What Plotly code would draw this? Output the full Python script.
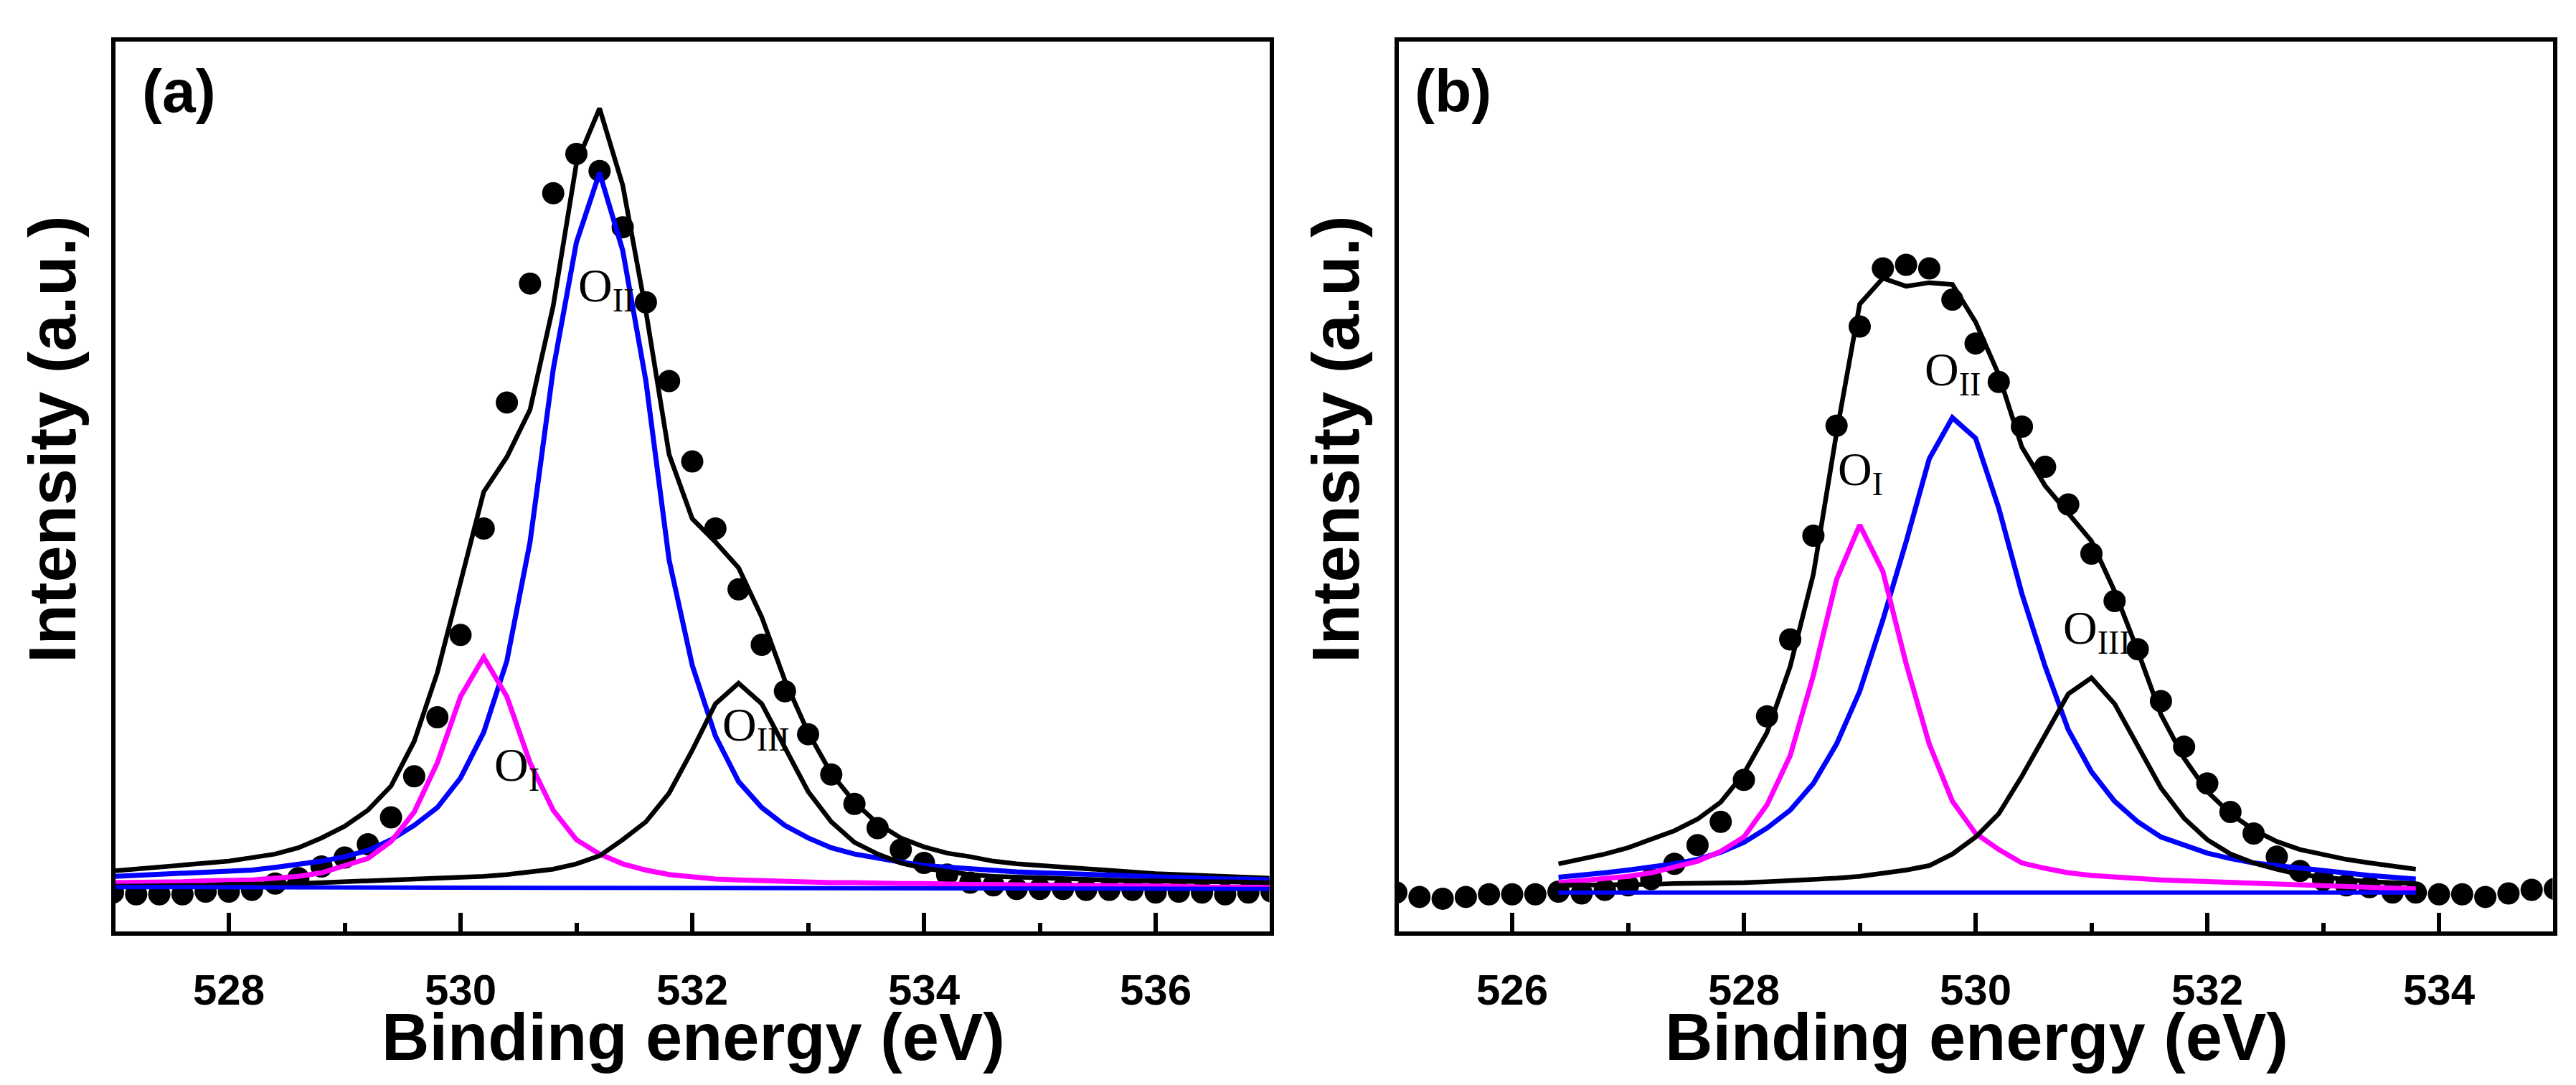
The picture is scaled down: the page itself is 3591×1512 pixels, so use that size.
import plotly.graph_objects as go

# ---- panel (a): O 1s spectrum, measured points and fitted components ----
energy_a = [527.0, 527.2, 527.4, 527.6, 527.8, 528.0, 528.2, 528.4, 528.6, 528.8,
            529.0, 529.2, 529.4, 529.6, 529.8, 530.0, 530.2, 530.4, 530.6, 530.8,
            531.0, 531.2, 531.4, 531.6, 531.8, 532.0, 532.2, 532.4, 532.6, 532.8,
            533.0, 533.2, 533.4, 533.6, 533.8, 534.0, 534.2, 534.4, 534.6, 534.8,
            535.0, 535.2, 535.4, 535.6, 535.8, 536.0, 536.2, 536.4, 536.6, 536.8,
            537.0]
raw_a = [4.6, 4.4, 4.4, 4.4, 4.7, 4.7, 4.9, 5.6, 6.2, 7.5,
         8.5, 10.0, 13.0, 17.6, 24.2, 33.4, 45.3, 59.4, 72.7, 82.8,
         87.2, 85.3, 79.0, 70.6, 61.8, 52.8, 45.3, 38.5, 32.3, 27.1,
         22.3, 17.8, 14.5, 11.8, 9.4, 7.9, 6.6, 5.7, 5.4, 5.0,
         5.0, 5.0, 4.9, 4.9, 4.9, 4.6, 4.7, 4.6, 4.4, 4.6,
         4.7]
envelope_a = [7.0, 7.2, 7.4, 7.6, 7.9, 8.1, 8.5, 8.9, 9.6, 10.7,
              12.0, 13.8, 16.5, 21.5, 29.2, 39.3, 49.4, 53.3, 58.6, 70.2,
              86.1, 92.3, 83.7, 69.6, 53.6, 46.4, 43.8, 40.9, 35.4, 28.3,
              22.5, 17.9, 14.7, 12.3, 10.7, 9.7, 9.0, 8.6, 8.1, 7.8,
              7.6, 7.4, 7.2, 7.0, 6.8, 6.7, 6.6, 6.5, 6.5, 6.3,
              6.2]
o2_a = [6.4, 6.5, 6.6, 6.7, 6.8, 6.9, 7.1, 7.4, 7.7, 8.1,
        8.6, 9.3, 10.5, 12.1, 14.1, 17.4, 22.5, 30.5, 43.8, 63.1,
        77.3, 85.1, 76.4, 61.8, 41.8, 30.0, 22.1, 17.0, 14.1, 12.1,
        10.7, 9.6, 8.9, 8.4, 8.0, 7.6, 7.4, 7.2, 7.1, 6.9,
        6.8, 6.7, 6.6, 6.5, 6.4, 6.3, 6.3, 6.2, 6.1, 6.1,
        6.0]
o1_a = [5.7, 5.7, 5.8, 5.8, 5.9, 5.9, 6.0, 6.2, 6.4, 6.8,
        7.6, 8.4, 10.3, 13.6, 19.1, 26.5, 30.9, 26.5, 19.1, 13.8,
        10.5, 8.9, 7.8, 7.1, 6.6, 6.3, 6.1, 6.0, 5.9, 5.8,
        5.8, 5.7, 5.7, 5.6, 5.6, 5.6, 5.5, 5.5, 5.5, 5.4,
        5.4, 5.4, 5.4, 5.3, 5.3, 5.3, 5.3, 5.2, 5.2, 5.2,
        5.2]
o3_a = [5.3, 5.3, 5.4, 5.4, 5.4, 5.5, 5.5, 5.6, 5.6, 5.7,
        5.8, 5.8, 5.9, 6.0, 6.1, 6.2, 6.4, 6.6, 6.9, 7.2,
        7.8, 8.7, 10.5, 12.5, 15.7, 20.5, 25.7, 28.0, 25.7, 20.9,
        15.9, 12.5, 10.2, 8.9, 7.9, 7.3, 6.9, 6.6, 6.4, 6.3,
        6.2, 6.1, 6.0, 6.0, 5.9, 5.9, 5.8, 5.8, 5.8, 5.7,
        5.7]
base_energy_a = [527.0, 537.0]
base_a = [5.2, 5.0]

# ---- panel (b) ----
energy_b = [525.0, 525.2, 525.4, 525.6, 525.8, 526.0, 526.2, 526.4, 526.6, 526.8,
            527.0, 527.2, 527.4, 527.6, 527.8, 528.0, 528.2, 528.4, 528.6, 528.8,
            529.0, 529.2, 529.4, 529.6, 529.8, 530.0, 530.2, 530.4, 530.6, 530.8,
            531.0, 531.2, 531.4, 531.6, 531.8, 532.0, 532.2, 532.4, 532.6, 532.8,
            533.0, 533.2, 533.4, 533.6, 533.8, 534.0, 534.2, 534.4, 534.6, 534.8,
            535.0]
raw_b = [4.6, 4.1, 3.9, 4.1, 4.4, 4.4, 4.4, 4.7, 4.5, 4.9,
         5.4, 6.1, 7.8, 9.9, 12.5, 17.2, 24.3, 32.9, 44.5, 56.8,
         67.9, 74.4, 74.8, 74.4, 70.9, 66.0, 61.7, 56.7, 52.2, 48.0,
         42.5, 37.2, 31.8, 26.0, 20.9, 16.8, 13.6, 11.2, 8.6, 7.0,
         6.0, 5.4, 5.2, 4.6, 4.6, 4.4, 4.4, 4.1, 4.5, 4.9,
         5.0]
fit_energy_b = [526.4, 526.6, 526.8, 527.0, 527.2, 527.4, 527.6, 527.8, 528.0, 528.2,
                528.4, 528.6, 528.8, 529.0, 529.2, 529.4, 529.6, 529.8, 530.0, 530.2,
                530.4, 530.6, 530.8, 531.0, 531.2, 531.4, 531.6, 531.8, 532.0, 532.2,
                532.4, 532.6, 532.8, 533.0, 533.2, 533.4, 533.6, 533.8]
envelope_b = [7.8, 8.3, 8.9, 9.6, 10.5, 11.5, 12.8, 14.7, 17.9, 22.5,
              29.9, 40.2, 56.0, 70.4, 73.3, 72.4, 72.8, 72.6, 68.4, 62.5,
              54.4, 50.1, 47.0, 43.9, 38.3, 31.6, 24.5, 19.6, 15.9, 13.4,
              11.6, 10.3, 9.4, 8.8, 8.3, 7.9, 7.6, 7.2]
o2_b = [6.3, 6.5, 6.8, 7.1, 7.4, 7.8, 8.3, 9.1, 10.2, 11.8,
        13.8, 16.8, 21.2, 27.1, 35.1, 43.8, 53.1, 57.7, 55.4, 47.6,
        38.0, 29.9, 22.8, 18.1, 14.8, 12.5, 10.8, 9.9, 9.0, 8.4,
        7.9, 7.6, 7.3, 7.0, 6.7, 6.5, 6.3, 6.1]
o1_b = [5.7, 5.9, 6.1, 6.4, 6.8, 7.4, 8.1, 9.2, 10.8, 14.4,
        19.9, 28.9, 39.6, 45.7, 40.5, 30.2, 21.2, 14.8, 11.2, 9.4,
        7.9, 7.3, 6.8, 6.5, 6.3, 6.1, 6.0, 5.9, 5.8, 5.7,
        5.6, 5.5, 5.4, 5.3, 5.2, 5.2, 5.1, 5.0]
o3_b = [5.4, 5.4, 5.4, 5.5, 5.5, 5.6, 5.6, 5.7, 5.7, 5.8,
        5.9, 6.0, 6.2, 6.4, 6.7, 7.1, 7.6, 8.9, 10.8, 13.4,
        17.6, 22.3, 26.8, 28.6, 25.7, 21.0, 16.3, 12.9, 10.5, 8.9,
        7.9, 7.2, 6.6, 6.3, 6.0, 5.8, 5.7, 5.6]
base_energy_b = [526.4, 533.8]
base_b = [4.6, 4.6]

W, H = 3591, 1512
SANS = 'Liberation Sans, Arial, sans-serif'
SERIF = 'Liberation Serif, Times New Roman, serif'


def px_x(p):
    return p / W


def px_y(p):
    return 1 - p / H


fig = go.Figure()


def add_panel(xa, ya, e_raw, raw, e_fit, env, o2, o1, o3, e_base, base):
    fig.add_trace(go.Scatter(x=e_raw, y=raw, mode='markers', xaxis=xa, yaxis=ya,
                             marker=dict(color='black', size=31, line=dict(width=0))))
    fig.add_trace(go.Scatter(x=e_fit, y=env, mode='lines', xaxis=xa, yaxis=ya,
                             line=dict(color='black', width=6.5)))
    fig.add_trace(go.Scatter(x=e_fit, y=o2, mode='lines', xaxis=xa, yaxis=ya,
                             line=dict(color='#0000FF', width=7)))
    fig.add_trace(go.Scatter(x=e_fit, y=o1, mode='lines', xaxis=xa, yaxis=ya,
                             line=dict(color='#FF00FF', width=7)))
    fig.add_trace(go.Scatter(x=e_fit, y=o3, mode='lines', xaxis=xa, yaxis=ya,
                             line=dict(color='black', width=6.5)))
    fig.add_trace(go.Scatter(x=e_base, y=base, mode='lines', xaxis=xa, yaxis=ya,
                             line=dict(color='#0000FF', width=6)))


add_panel('x', 'y', energy_a, raw_a, energy_a, envelope_a, o2_a, o1_a, o3_a,
          base_energy_a, base_a)
add_panel('x2', 'y2', energy_b, raw_b, fit_energy_b, envelope_b, o2_b, o1_b, o3_b,
          base_energy_b, base_b)

# inner edges of the frames (frame lines are drawn 3 px outside)
half = 3
ppe = 161.5   # pixels per eV
ppu = 12.46   # pixels per intensity unit


def xaxis_style(left_px, right_px, e0, e1, first_major):
    return dict(
        domain=[px_x(left_px + half), px_x(right_px - half)],
        range=[e0 + half / ppe, e1 - half / ppe],
        showline=True, linewidth=6, linecolor='black', mirror=True,
        showgrid=False, zeroline=False,
        ticks='inside', ticklen=26, tickwidth=6, tickcolor='black',
        tick0=first_major, dtick=2,
        tickfont=dict(family=SANS, size=60, color='black', weight='bold'),
        ticklabelstandoff=24,
        minor=dict(ticks='inside', ticklen=12, tickwidth=6, tickcolor='black',
                   tick0=e0, dtick=1),
    )


yaxis_style = dict(
    domain=[px_y(1293 - half), px_y(47 + half)],
    range=[half / ppu, 100 - half / ppu],
    showline=True, linewidth=6, linecolor='black', mirror=True,
    showgrid=False, zeroline=False, ticks='', showticklabels=False,
)

xa = xaxis_style(149.5, 1764.5, 527, 537, 528)
xa['anchor'] = 'y'
xb = xaxis_style(1938.5, 3553.5, 525, 535, 526)
xb['anchor'] = 'y2'
ya = dict(yaxis_style, anchor='x')
yb = dict(yaxis_style, anchor='x2')

annotations = []
title_font = dict(family=SANS, size=92, color='black', weight='bold')
for cx, ycx, tag, tx in [(958, 65, '(a)', 241), (2747, 1854, '(b)', 2017.5)]:
    annotations.append(dict(text='Binding energy (eV)', xref='paper', yref='paper',
                            x=px_x(cx), y=px_y(1437), xanchor='center', yanchor='middle',
                            showarrow=False, font=title_font))
    annotations.append(dict(text='Intensity (a.u.)', xref='paper', yref='paper',
                            x=px_x(ycx), y=px_y(604), xanchor='center', yanchor='middle',
                            textangle=-90, showarrow=False, font=title_font))
    annotations.append(dict(text=tag, xref='paper', yref='paper',
                            x=px_x(tx), y=px_y(119), xanchor='center', yanchor='middle',
                            showarrow=False,
                            font=dict(family=SANS, size=84, color='black', weight='bold')))

# component labels
labels = [('x', 'y', 531.0, 72.1, 'II'), ('x', 'y', 530.28, 18.5, 'I'),
          ('x', 'y', 532.25, 23.0, 'III'),
          ('x2', 'y2', 528.80, 51.6, 'I'), ('x2', 'y2', 529.55, 62.7, 'II'),
          ('x2', 'y2', 530.74, 33.8, 'III')]
for xr, yr, lx, ly, sub in labels:
    annotations.append(dict(text='O<sub>%s</sub>' % sub,
                            xref=xr, yref=yr, x=lx, y=ly, xanchor='left', yanchor='middle',
                            showarrow=False,
                            font=dict(family=SERIF, size=66, color='black')))

fig.update_layout(
    width=W, height=H,
    margin=dict(l=0, r=0, t=0, b=0),
    paper_bgcolor='white', plot_bgcolor='white',
    showlegend=False,
    xaxis=xa, xaxis2=xb, yaxis=ya, yaxis2=yb,
    annotations=annotations,
)

fig.write_html('out.html')
